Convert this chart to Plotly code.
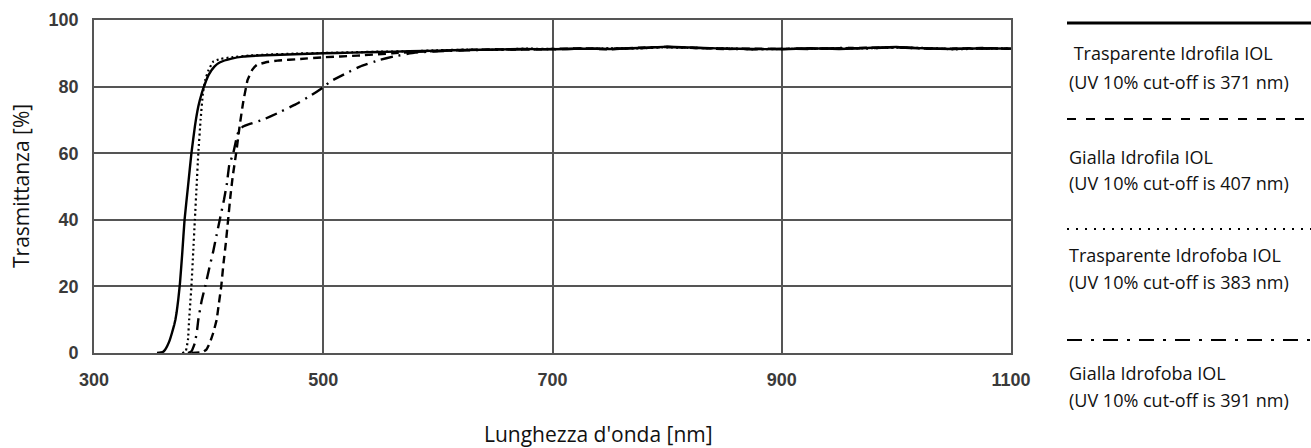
import plotly.graph_objects as go

# ---------------- data ----------------
x_tick_vals = [300, 500, 700, 900, 1100]
y_tick_vals = [0, 20, 40, 60, 80, 100]

plateau_x = [600, 625, 650, 675, 700, 725, 750, 775, 800, 825, 850, 875,
             900, 925, 950, 975, 1000, 1025, 1050, 1075, 1100]

# Trasparente Idrofila IOL (solid)
tr_idrofila_x = [355, 360, 362, 364, 366, 368, 370, 371, 372, 373.5, 375, 377, 379,
                 382, 385, 388, 391, 394, 397, 400, 405, 410, 420, 430, 450, 475,
                 500, 525, 550, 575] + plateau_x
tr_idrofila_y = [0, 0.3, 1, 2.2, 3.8, 6, 8.5, 10, 12, 16, 21, 30, 40,
                 50, 60, 68, 74, 78, 81, 83.5, 86, 87.3, 88.4, 89.0, 89.4, 89.7,
                 90.0, 90.2, 90.4, 90.6,
                 90.8, 91.0, 91.1, 91.3, 91.2, 91.4, 91.3, 91.6, 92.0, 91.7, 91.4, 91.3,
                 91.2, 91.5, 91.3, 91.6, 91.9, 91.5, 91.3, 91.5, 91.4]

# Gialla Idrofila IOL (dashed)
gi_idrofila_x = [385, 395, 398, 401, 404, 407, 409, 411, 413, 415, 417, 419, 421,
                 424, 427, 430, 434, 438, 442, 450, 460, 480, 500, 530, 560,
                 580] + plateau_x
gi_idrofila_y = [0, 0.3, 1, 3, 6, 10, 15, 20, 27, 33, 40, 47, 53,
                 60, 68, 75, 82, 85, 86.5, 87.3, 87.8, 88.3, 88.8, 89.3, 90.0,
                 90.4,
                 90.7, 91.0, 91.2, 91.1, 91.3, 91.5, 91.2, 91.7, 91.9, 91.6, 91.3, 91.4,
                 91.3, 91.4, 91.5, 91.7, 91.8, 91.4, 91.4, 91.6, 91.3]

# Trasparente Idrofoba IOL (dotted)
tr_idrofoba_x = [377, 380, 382, 383, 384, 385, 386.5, 388, 389.5, 391, 393, 395,
                 397, 400, 404, 410, 420, 435, 450, 475, 500, 525, 550,
                 575] + plateau_x
tr_idrofoba_y = [0, 0.5, 4, 10, 15, 20, 30, 40, 50, 60, 70, 78,
                 82, 85, 87.5, 88.3, 88.8, 89.3, 89.6, 89.9, 90.1, 90.3, 90.5,
                 90.6,
                 90.9, 91.1, 91.0, 91.4, 91.3, 91.3, 91.5, 91.5, 91.8, 91.6, 91.5, 91.2,
                 91.3, 91.4, 91.4, 91.5, 91.7, 91.6, 91.2, 91.4, 91.5]

# Gialla Idrofoba IOL (dash-dot)
gi_idrofoba_x = [382, 385, 388, 390, 391, 393.8, 397, 400.6, 404, 407, 410, 413.4,
                 416, 418, 421.5, 424, 426, 430, 436, 447, 460, 475, 490, 500,
                 506, 520, 532, 549, 561, 580] + plateau_x
gi_idrofoba_y = [0, 0.5, 3, 7, 10, 15.5, 20, 25.5, 30.5, 35.5, 40.5, 46,
                 51, 56.5, 60, 64, 66.5, 68, 68.8, 70, 72, 74.5, 77.5, 79.8,
                 81.5, 84, 86, 88, 89, 90.2,
                 90.6, 90.9, 91.1, 91.2, 91.2, 91.4, 91.4, 91.5, 91.9, 91.6, 91.4, 91.2,
                 91.4, 91.3, 91.6, 91.5, 91.8, 91.4, 91.4, 91.4, 91.4]

legend_titles = [" Trasparente Idrofila IOL", "Gialla Idrofila IOL",
                 "Trasparente Idrofoba IOL", "Gialla Idrofoba IOL"]
legend_cutoffs = ["(UV 10% cut-off is 371 nm)", "(UV 10% cut-off is 407 nm)",
                  "(UV 10% cut-off is 383 nm)", "(UV 10% cut-off is 391 nm)"]

# ---------------- figure ----------------
W, H = 1311, 448
L, R, T, B = 94, 300, 20, 95
PW, PH = W - L - R, H - T - B


def px_x(px):
    return (px - L) / PW


def px_y(py):
    return (H - B - py) / PH


fig = go.Figure()
series = [
    (tr_idrofila_x, tr_idrofila_y, "solid", 2.4),
    (gi_idrofila_x, gi_idrofila_y, "8px,5px", 2.4),
    (tr_idrofoba_x, tr_idrofoba_y, "2px,3px", 2.2),
    (gi_idrofoba_x, gi_idrofoba_y, "12px,6px,2px,6px", 2.4),
]
for (xs, ys, dash, w), name in zip(series, legend_titles):
    fig.add_trace(go.Scatter(x=xs, y=ys, mode="lines", name=name.strip(),
                             line=dict(color="black", width=w, dash=dash, shape="spline",
                                       smoothing=0.3),
                             showlegend=False))

tick_font = dict(family="Liberation Sans", size=18, color="#3a3a3a", weight="bold")
grid_col = "#555555"

fig.update_xaxes(range=[300, 1100], tickvals=x_tick_vals,
                 ticktext=[str(v) for v in x_tick_vals],
                 showgrid=True, gridcolor=grid_col, gridwidth=1.6,
                 showline=True, linecolor=grid_col, linewidth=1.6, mirror=True,
                 ticks="outside", ticklen=10, tickcolor="rgba(0,0,0,0)",
                 tickfont=tick_font, zeroline=False)
fig.update_yaxes(range=[0, 100], tickvals=y_tick_vals,
                 showgrid=True, gridcolor=grid_col, gridwidth=1.6,
                 showline=True, linecolor=grid_col, linewidth=1.6, mirror=True,
                 ticks="outside", ticklen=10, tickcolor="rgba(0,0,0,0)",
                 tickfont=tick_font, zeroline=False)

text_font = dict(family="Open Sans", size=18, color="#111111")
title_font = dict(family="Open Sans", size=21, color="#111111")

annotations = [
    dict(text="Trasmittanza [%]", x=px_x(21), y=px_y(186), xref="paper", yref="paper",
         textangle=-90, showarrow=False, font=title_font, xanchor="center", yanchor="middle"),
    dict(text="Lunghezza d'onda [nm]", x=px_x(598), y=px_y(434), xref="paper", yref="paper",
         showarrow=False, font=title_font, xanchor="center", yanchor="middle"),
]
title_rows = [53, 157, 255, 373]
cut_rows = [82, 183, 282, 400]
for t, c, ty, cy in zip(legend_titles, legend_cutoffs, title_rows, cut_rows):
    annotations.append(dict(text=t.replace(" ", "&nbsp;", 1) if t.startswith(" ") else t,
                            x=px_x(1067), y=px_y(ty), xref="paper", yref="paper",
                            showarrow=False, font=text_font, xanchor="left", yanchor="middle"))
    annotations.append(dict(text=c, x=px_x(1067), y=px_y(cy), xref="paper", yref="paper",
                            showarrow=False, font=text_font, xanchor="left", yanchor="middle"))

legend_lines = [(23, "solid", 3), (119, "9px,10px", 2.2), (229, "2px,7px", 2.2),
                (340, "15px,9px,3px,9px", 2.2)]
shapes = []
for py, dash, w in legend_lines:
    shapes.append(dict(type="line", xref="paper", yref="paper",
                       x0=px_x(1067), x1=px_x(1311), y0=px_y(py), y1=px_y(py),
                       line=dict(color="black", width=w, dash=dash)))

fig.update_layout(width=W, height=H, margin=dict(l=L, r=R, t=T, b=B, autoexpand=False),
                  plot_bgcolor="white", paper_bgcolor="white",
                  annotations=annotations, shapes=shapes, showlegend=False)

fig.write_html("out.html", config={"displayModeBar": False},
               post_script="document.body.style.margin='0';"
                           "document.body.style.overflow='hidden';")
